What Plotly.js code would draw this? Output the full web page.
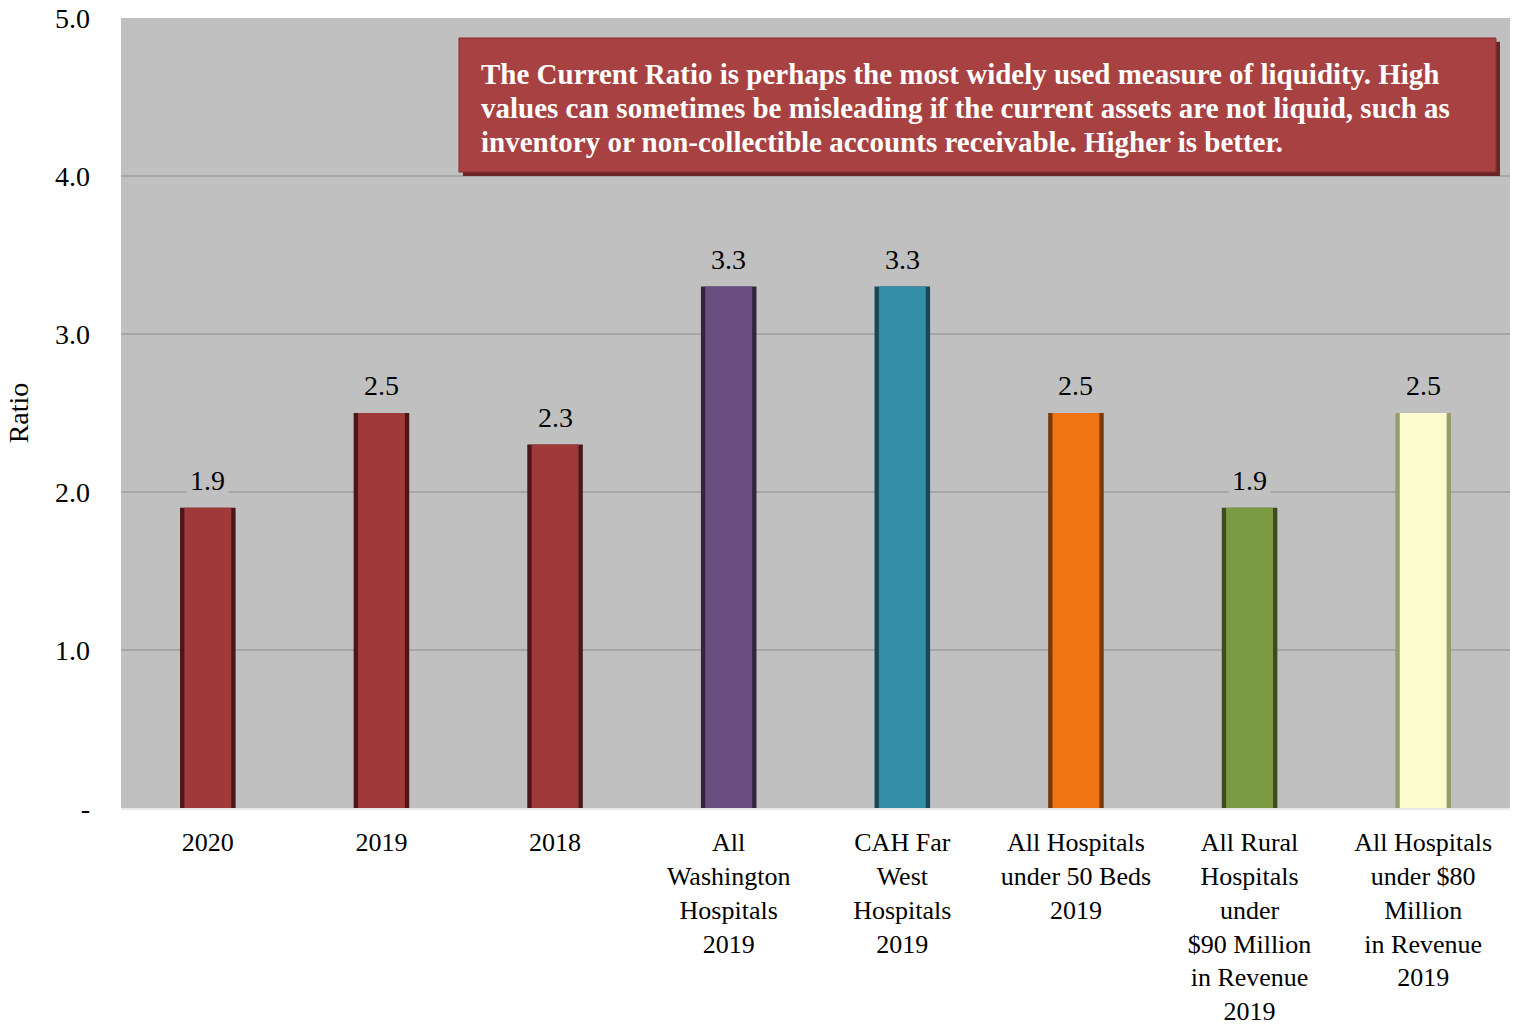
<!DOCTYPE html>
<html>
<head>
<meta charset="utf-8">
<script src="https://cdn.plot.ly/plotly-3.0.1.min.js"></script>
<style>html,body{margin:0;padding:0;background:#fff;}#chart{width:1513px;height:1029px;}</style>
</head>
<body>
<div id="chart"></div>
<script>
const categories = [
  "2020",
  "2019",
  "2018",
  "All<br>Washington<br>Hospitals<br>2019",
  "CAH Far<br>West<br>Hospitals<br>2019",
  "All Hospitals<br>under 50 Beds<br>2019",
  "All Rural<br>Hospitals<br>under<br>$90 Million<br>in Revenue<br>2019",
  "All Hospitals<br>under $80<br>Million<br>in Revenue<br>2019"
];
const values = [1.9, 2.5, 2.3, 3.3, 3.3, 2.5, 1.9, 2.5];
const faceColors = ["#a03a3a", "#a03a3a", "#a03a3a", "#6a4e82", "#338ea8", "#f07412", "#7c9a42", "#fbfbd0"];
const edgeColors = ["#4a1818", "#4a1818", "#4a1818", "#33253f", "#184756", "#7a3a08", "#3c4b20", "#9a9a70"];
const topColors = ["#c25a5a", "#c25a5a", "#c25a5a", "#8a70a2", "#55aec8", "#fa9440", "#9aba62", "#ffffff"];
const tickVals = [0, 1, 2, 3, 4, 5];
const tickText = ["-", "1.0", "2.0", "3.0", "4.0", "5.0"];
const noteLines = [
  "The Current Ratio is perhaps the most widely used measure of liquidity. High",
  "values can sometimes be misleading if the current assets are not liquid, such as",
  "inventory or non-collectible accounts receivable. Higher is better."
];

const serif = "'Liberation Serif', 'Times New Roman', serif";
const xIdx = categories.map((_, i) => i);

const traces = [
  {
    type: "bar", x: xIdx, y: values, width: 0.32,
    marker: {color: edgeColors, line: {width: 0}},
    hoverinfo: "skip", showlegend: false
  },
  {
    type: "bar", x: xIdx, y: values, width: 0.27,
    marker: {color: faceColors, line: {width: 0}},
    showlegend: false
  }
];

const annotations = xIdx.map(i => ({
  x: i, y: values[i], xref: "x", yref: "y",
  text: values[i].toFixed(1), showarrow: false,
  yanchor: "bottom", yshift: 8,
  font: {family: serif, size: 28, color: "#000"},
  bgcolor: "#c0c0c0", borderpad: 3
}));

const noteY = [0.9291, 0.8861, 0.8430];
noteLines.forEach((t, i) => annotations.push({
  xref: "paper", yref: "paper", x: 0.2577, y: noteY[i],
  xanchor: "left", yanchor: "middle", align: "left", showarrow: false,
  text: "<b>" + t + "</b>",
  font: {family: serif, size: 29, color: "#ffffff"}
}));

const layout = {
  width: 1513, height: 1029,
  margin: {l: 121, r: 3, t: 18, b: 221},
  paper_bgcolor: "#ffffff",
  plot_bgcolor: "#c0c0c0",
  barmode: "overlay",
  font: {family: serif, size: 26, color: "#000"},
  xaxis: {
    range: [-0.5, 7.5],
    tickvals: xIdx, ticktext: categories,
    tickfont: {family: serif, size: 26, color: "#000"},
    ticklabelstandoff: 10,
    showgrid: false, zeroline: false,
    showline: true, linecolor: "#e8e8e8", linewidth: 2,
    ticks: "", automargin: false, fixedrange: true
  },
  yaxis: {
    range: [0, 5],
    tickvals: tickVals, ticktext: tickText,
    tickfont: {family: serif, size: 28, color: "#000"},
    ticklabelstandoff: 30,
    showgrid: true, gridcolor: "#a6a6a6", gridwidth: 1.5,
    zeroline: false, showline: false, ticks: "",
    title: {text: "Ratio", font: {family: serif, size: 28, color: "#000"}, standoff: 18},
    automargin: false
  },
  shapes: [
    {type: "rect", xref: "paper", yref: "paper", x0: 0.2462, x1: 0.9928, y0: 0.800, y1: 0.970,
     fillcolor: "#6a2626", line: {width: 0}, layer: "above"},
    {type: "rect", xref: "paper", yref: "paper", x0: 0.2433, x1: 0.9899, y0: 0.805, y1: 0.9747,
     fillcolor: "#a84242", line: {width: 1, color: "#8a3030"}, layer: "above"}
  ],
  annotations: annotations
};

Plotly.newPlot("chart", traces, layout, {displayModeBar: false, staticPlot: true});
</script>
</body>
</html>
